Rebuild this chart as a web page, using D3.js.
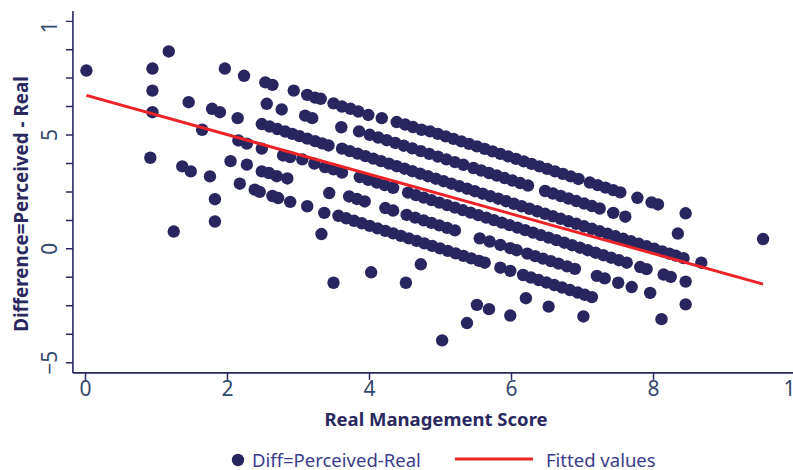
<!DOCTYPE html>
<html><head><meta charset="utf-8">
<script src="https://cdn.jsdelivr.net/npm/d3@7"></script>
<style>html,body{margin:0;padding:0;background:#fff;} svg{display:block;}</style>
</head><body>
<svg id="chart" width="793" height="470"></svg>
<script>
// ---- data: [Real Management Score, Difference = Perceived - Real] ----
const perceived10 = [[1.18,8.65],[1.97,7.90],[2.24,7.58],[2.54,7.29],[2.64,7.18],[2.94,6.93],[3.13,6.74],[3.24,6.62],[3.32,6.57],[3.50,6.37],[3.62,6.23],[3.74,6.13],[3.85,6.01],[3.99,5.86],[4.18,5.72],[4.39,5.55],[4.51,5.44],[4.62,5.33],[4.74,5.21],[4.86,5.14],[4.97,5.03],[5.08,4.92],[5.19,4.81],[5.30,4.70],[5.41,4.59],[5.52,4.48],[5.63,4.37],[5.74,4.26],[5.85,4.15],[5.96,4.04],[6.07,3.93],[6.18,3.82],[6.29,3.71],[6.40,3.60],[6.51,3.49],[6.62,3.38],[6.73,3.27],[6.84,3.16],[6.95,3.05],[7.11,2.89],[7.22,2.78],[7.33,2.67],[7.44,2.56],[7.54,2.46],[7.78,2.22],[7.98,2.02],[8.07,1.93],[8.46,1.54]];
const perceived9 = [[0.95,7.90],[2.56,6.35],[2.77,6.10],[3.10,5.83],[3.20,5.72],[3.61,5.32],[3.86,5.14],[4.01,4.99],[4.13,4.87],[4.25,4.75],[4.37,4.63],[4.49,4.51],[4.61,4.39],[4.73,4.27],[4.85,4.15],[4.97,4.03],[5.09,3.91],[5.21,3.79],[5.33,3.67],[5.47,3.53],[5.58,3.42],[5.69,3.31],[5.80,3.20],[5.91,3.09],[6.02,2.98],[6.13,2.87],[6.24,2.76],[6.48,2.52],[6.59,2.41],[6.70,2.30],[6.81,2.19],[6.92,2.08],[7.03,1.97],[7.14,1.86],[7.25,1.75],[7.44,1.56],[7.61,1.39],[8.35,0.65]];
const perceived8 = [[0.02,7.81],[0.95,6.93],[1.46,6.42],[1.79,6.13],[1.90,5.98],[2.15,5.72],[2.49,5.46],[2.60,5.35],[2.71,5.24],[2.82,5.13],[2.92,5.03],[3.02,4.93],[3.13,4.82],[3.24,4.71],[3.34,4.61],[3.43,4.52],[3.62,4.38],[3.73,4.27],[3.84,4.16],[3.95,4.05],[4.06,3.94],[4.17,3.83],[4.28,3.72],[4.39,3.61],[4.50,3.50],[4.61,3.39],[4.72,3.28],[4.83,3.17],[4.94,3.06],[5.05,2.95],[5.16,2.84],[5.27,2.73],[5.38,2.62],[5.49,2.51],[5.60,2.40],[5.71,2.29],[5.82,2.18],[5.93,2.07],[6.04,1.96],[6.15,1.85],[6.26,1.74],[6.37,1.63],[6.48,1.52],[6.59,1.41],[6.70,1.30],[6.81,1.19],[6.92,1.08],[7.03,0.97],[7.14,0.86],[7.25,0.75],[7.36,0.64],[7.47,0.53],[7.58,0.42],[7.69,0.31],[7.80,0.20],[7.91,0.09],[8.02,-0.02],[8.13,-0.13],[8.23,-0.23],[8.32,-0.32],[8.43,-0.43],[8.68,-0.63]];
const perceived7 = [[0.95,5.98],[1.65,5.21],[2.16,4.74],[2.28,4.60],[2.49,4.38],[2.79,4.08],[2.89,4.01],[3.06,3.91],[3.23,3.72],[3.38,3.57],[3.50,3.47],[3.62,3.33],[3.87,3.13],[3.99,3.01],[4.11,2.89],[4.22,2.78],[4.34,2.66],[4.55,2.45],[4.66,2.34],[4.77,2.23],[4.88,2.12],[4.99,2.01],[5.10,1.90],[5.21,1.79],[5.32,1.68],[5.43,1.57],[5.54,1.46],[5.65,1.35],[5.76,1.24],[5.87,1.13],[5.98,1.02],[6.09,0.91],[6.20,0.80],[6.31,0.69],[6.42,0.58],[6.53,0.47],[6.64,0.36],[6.75,0.25],[6.86,0.14],[6.97,0.03],[7.08,-0.08],[7.19,-0.19],[7.30,-0.30],[7.41,-0.41],[7.52,-0.52],[7.63,-0.63],[7.82,-0.82],[7.91,-0.91],[8.15,-1.15],[8.25,-1.25],[8.46,-1.46]];
const perceived6 = [[2.05,3.83],[2.28,3.68],[2.49,3.38],[2.59,3.31],[2.70,3.17],[2.85,3.07],[3.44,2.43],[3.72,2.28],[3.83,2.17],[3.94,2.06],[4.23,1.77],[4.34,1.66],[4.53,1.47],[4.65,1.35],[4.77,1.23],[4.88,1.12],[4.99,1.01],[5.10,0.90],[5.21,0.79],[5.56,0.44],[5.70,0.30],[5.85,0.15],[5.99,0.01],[6.08,-0.08],[6.23,-0.23],[6.34,-0.34],[6.45,-0.45],[6.56,-0.56],[6.67,-0.67],[6.79,-0.79],[6.90,-0.90],[7.21,-1.21],[7.32,-1.32],[7.51,-1.51],[7.70,-1.70],[7.96,-1.96],[8.46,-2.46]];
const perceived5 = [[0.92,3.98],[1.37,3.60],[1.49,3.38],[1.76,3.16],[2.18,2.84],[2.39,2.58],[2.46,2.48],[2.64,2.30],[2.72,2.21],[2.89,2.04],[3.13,1.85],[3.37,1.56],[3.57,1.43],[3.68,1.32],[3.79,1.21],[3.90,1.10],[4.01,0.99],[4.12,0.88],[4.23,0.77],[4.34,0.66],[4.45,0.55],[4.56,0.44],[4.67,0.33],[4.78,0.22],[4.89,0.11],[5.00,0.00],[5.11,-0.11],[5.22,-0.22],[5.33,-0.33],[5.44,-0.44],[5.55,-0.55],[5.63,-0.63],[5.85,-0.85],[5.99,-0.99],[6.17,-1.17],[6.28,-1.28],[6.39,-1.39],[6.50,-1.50],[6.61,-1.61],[6.72,-1.72],[6.83,-1.83],[6.94,-1.94],[7.04,-2.04],[7.14,-2.14],[8.12,-3.11]];
const perceivedLow = [[1.83,2.16],[3.33,0.63],[4.73,-0.70],[6.21,-2.19],[6.53,-2.56],[7.02,-2.99],[1.25,0.74],[1.83,1.18],[3.50,-1.51],[4.03,-1.05],[4.52,-1.51],[5.38,-3.28],[5.03,-4.04],[5.52,-2.48],[5.69,-2.67],[5.99,-2.95],[9.55,0.41]];

const fittedX = [0.02, 9.55];
const fittedY = [6.72, -1.57];

const xTickValues = [0, 2, 4, 6, 8, 10];
const yTickValues = [-5, -3.75, -2.5, -1.25, 0, 1.25, 2.5, 3.75, 5, 6.25, 7.5, 8.75, 10];
const yLabelled = [-5, 0, 5, 10];
const legendLabels = ["Diff=Perceived-Real", "Fitted values"];
const axisTitles = ["Real Management Score", "Difference=Perceived - Real"];

// ---- drawing ----
const svg = d3.select("#chart");
const navy = "#2a2860", dotColor = "#29255f", labelColor = "#34496f", legendColor = "#3a3c8c", red = "#ec2327";
const font = "'Noto Sans', 'Open Sans', sans-serif";

const x = d3.scaleLinear().domain([0, 10]).range([85, 795]);
const y = d3.scaleLinear().domain([-5, 10]).range([362.2, 20.7]);

const points = [].concat(perceived10, perceived9, perceived8, perceived7, perceived6, perceived5, perceivedLow);

svg.append("g").selectAll("circle").data(points).join("circle")
  .attr("cx", d => x(d[0])).attr("cy", d => y(d[1])).attr("r", 6.2).attr("fill", dotColor);

svg.append("path")
  .datum(fittedX.map((v, i) => [v, fittedY[i]]))
  .attr("d", d3.line().x(d => x(d[0])).y(d => y(d[1])))
  .attr("fill", "none").attr("stroke", red).attr("stroke-width", 3);

// axis lines
const x0 = x(-0.17), yBottom = y(-5.47), yTop = y(10.43);
svg.append("line").attr("x1", x0).attr("x2", x0).attr("y1", yTop).attr("y2", yBottom)
  .attr("stroke", navy).attr("stroke-width", 1.6);
svg.append("line").attr("x1", x0).attr("x2", 793).attr("y1", yBottom).attr("y2", yBottom)
  .attr("stroke", navy).attr("stroke-width", 1.6);

// y axis
svg.append("defs").append("clipPath").attr("id", "yclip")
  .append("rect").attr("x", -90).attr("y", 20.5).attr("width", 100).attr("height", 420);
const yAxis = svg.append("g").attr("transform", `translate(${x0},0)`).attr("clip-path", "url(#yclip)")
  .call(d3.axisLeft(y).tickValues(yTickValues).tickSize(7).tickSizeOuter(0)
    .tickFormat(d => yLabelled.includes(d) ? d3.format("d")(d) : ""));
yAxis.select(".domain").remove();
yAxis.selectAll(".tick line").attr("stroke", navy).attr("stroke-width", 1.5);
yAxis.selectAll(".tick text")
  .attr("transform", "rotate(-90)").attr("x", 0).attr("y", -24).attr("dy", null)
  .attr("text-anchor", "middle").attr("dominant-baseline", "central")
  .attr("fill", labelColor).style("font-family", font).style("font-size", "21px");

// x axis
const xAxis = svg.append("g").attr("transform", `translate(0,${yBottom})`)
  .call(d3.axisBottom(x).tickValues(xTickValues).tickSize(7).tickSizeOuter(0).tickFormat(d3.format("d")));
xAxis.select(".domain").remove();
xAxis.selectAll(".tick line").attr("stroke", navy).attr("stroke-width", 1.5);
xAxis.selectAll(".tick text").attr("y", 8).attr("fill", labelColor)
  .style("font-family", font).style("font-size", "21px");

// titles
svg.append("text").attr("x", 436).attr("y", 418).attr("text-anchor", "middle").attr("dominant-baseline", "central")
  .attr("fill", navy).style("font-family", font).style("font-weight", "bold").style("font-size", "18.5px")
  .text(axisTitles[0]);
svg.append("text").attr("transform", "translate(21,204) rotate(-90)").attr("text-anchor", "middle")
  .attr("dominant-baseline", "central")
  .attr("fill", navy).style("font-family", font).style("font-weight", "bold").style("font-size", "18.8px")
  .text(axisTitles[1]);

// legend
const lg = svg.append("g");
lg.append("circle").attr("cx", 238).attr("cy", 460).attr("r", 6.2).attr("fill", dotColor);
lg.append("text").attr("x", 252).attr("y", 459).attr("dominant-baseline", "central")
  .attr("fill", legendColor).style("font-family", font).style("font-size", "18.5px").text(legendLabels[0]);
lg.append("line").attr("x1", 455).attr("x2", 533).attr("y1", 459).attr("y2", 459)
  .attr("stroke", red).attr("stroke-width", 3);
lg.append("text").attr("x", 546).attr("y", 459).attr("dominant-baseline", "central")
  .attr("fill", legendColor).style("font-family", font).style("font-size", "18.5px").text(legendLabels[1]);
</script>
</body></html>
